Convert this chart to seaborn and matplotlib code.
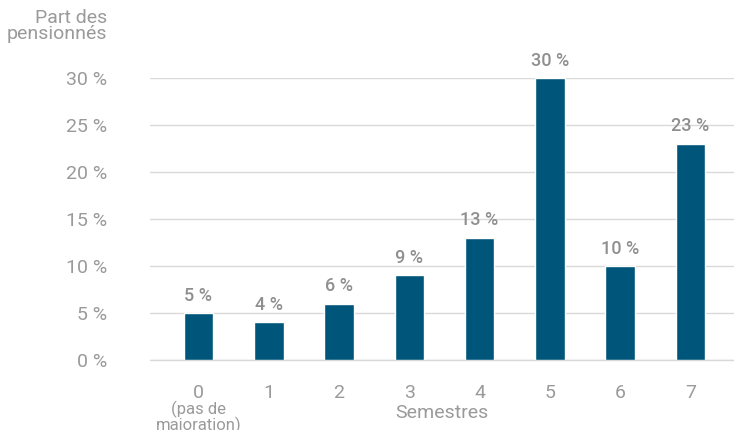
import matplotlib
matplotlib.use("Agg")
import matplotlib.pyplot as plt
import seaborn as sns
import pandas as pd

# Données
semestres = ["0", "1", "2", "3", "4", "5", "6", "7"]
parts = [5, 4, 6, 9, 13, 30, 10, 23]
yticks = [0, 5, 10, 15, 20, 25, 30]

bar_color = "#00567A"
text_gray = "#9a9a9a"
label_gray = "#8f8f8f"

sns.set_style("white")
plt.rcParams["font.family"] = ["Roboto", "DejaVu Sans"]

df = pd.DataFrame({"Semestre": semestres, "Part": parts})

fig = plt.figure(figsize=(7.34, 4.30), dpi=100)
ax = fig.add_axes([150 / 734, 70 / 430, 584 / 734, 282 / 430])

sns.barplot(data=df, x="Semestre", y="Part", color=bar_color, width=0.42,
            saturation=1, ax=ax, zorder=3)

ax.set_xlim(-0.69, 7.62)
ax.set_ylim(0, 30)
ax.set_yticks(yticks)
ax.set_yticklabels([f"{v} %" for v in yticks])
ax.yaxis.grid(True, color="#d9d9d9", linewidth=1, zorder=0)
ax.axhline(0, color="#d9d9d9", linewidth=1, zorder=0, clip_on=False)
ax.set_axisbelow(True)
for s in ax.spines.values():
    s.set_visible(False)
ax.tick_params(axis="y", length=0, pad=31, labelsize=14, labelcolor=text_gray)
ax.tick_params(axis="x", length=0, pad=17, labelsize=14, labelcolor=text_gray)

# Valeurs au-dessus des barres
for p, v in zip(ax.patches, parts):
    ax.annotate(f"{v} %", (p.get_x() + p.get_width() / 2, p.get_height()),
                xytext=(0, 6), textcoords="offset points", ha="center", va="bottom",
                fontsize=13, color=label_gray, fontweight="medium", annotation_clip=False)

ax.text(0, -4.3, "(pas de\nmajoration)", ha="center", va="top", fontsize=12,
        color=text_gray, linespacing=0.95, clip_on=False)

ax.set_xlabel("Semestres", fontsize=14, color=text_gray, labelpad=2)
ax.set_ylabel("")
fig.text(107 / 734, 1 - 9 / 430, "Part des\npensionnés", ha="right", va="top",
         fontsize=14, color=text_gray, linespacing=0.85)

fig.savefig("out.png", dpi=100)
